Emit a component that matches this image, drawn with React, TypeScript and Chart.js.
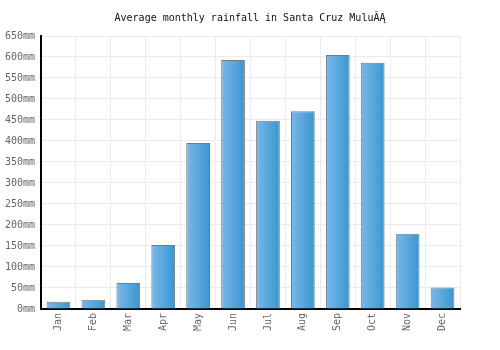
import React, { useEffect, useRef } from "react";
import { Chart, registerables } from "chart.js";

Chart.register(...registerables);

const months = ["Jan", "Feb", "Mar", "Apr", "May", "Jun", "Jul", "Aug", "Sep", "Oct", "Nov", "Dec"];
const rainfall = [17, 22, 62, 152, 395, 593, 448, 471, 605, 586, 179, 51];
const titleText = "Average monthly rainfall in Santa Cruz MuluĂĄ";
const unit = "mm";
const BAR_PCT = 0.68;
const FONT = "'DejaVu Sans Mono', monospace";

const titlePlugin = {
  id: "centerTitle",
  afterDraw(chart: any) {
    const ctx = chart.ctx;
    ctx.save();
    ctx.font = "10px " + FONT;
    ctx.fillStyle = "#111";
    ctx.textAlign = "center";
    ctx.textBaseline = "middle";
    ctx.fillText(titleText, chart.width / 2, 18);
    ctx.restore();
  },
};

export default function App() {
  const ref = useRef<HTMLCanvasElement | null>(null);
  useEffect(() => {
    if (!ref.current) return;
    const chart = new Chart(ref.current, {
      type: "bar",
      data: {
        labels: months,
        datasets: [
          {
            data: rainfall,
            borderColor: "#7a7a7a",
            borderWidth: 1,
            barPercentage: BAR_PCT,
            categoryPercentage: 1,
            backgroundColor: (c: any) => {
              const ch = c.chart;
              const xs = ch.scales?.x;
              if (!xs || c.dataIndex === undefined) return "#5aa8de";
              const cx = xs.getPixelForValue(c.dataIndex);
              const w = (xs.width / months.length) * BAR_PCT;
              if (!isFinite(cx) || !isFinite(w)) return "#5aa8de";
              const g = ch.ctx.createLinearGradient(cx - w / 2, 0, cx + w / 2, 0);
              g.addColorStop(0, "#7ab8ea");
              g.addColorStop(1, "#3996cf");
              return g;
            },
          },
        ],
      },
      plugins: [titlePlugin],
      options: {
        animation: false,
        responsive: false,
        maintainAspectRatio: false,
        layout: { padding: { left: 4, right: 40, top: 36, bottom: 15 } },
        plugins: {
          legend: { display: false },
          tooltip: { enabled: false },
          title: { display: false },
        },
        scales: {
          x: {
            grid: { color: "#ebebeb", offset: true, drawTicks: false },
            border: { color: "#000", width: 2 },
            ticks: {
              color: "#666",
              font: { family: FONT, size: 10 },
              maxRotation: 90,
              minRotation: 90,
              padding: 4,
            },
          },
          y: {
            min: 0,
            max: 650,
            grid: { color: "#ebebeb", drawTicks: false },
            border: { color: "#000", width: 2 },
            afterFit: (s: any) => {
              s.width = 37;
            },
            ticks: {
              stepSize: 50,
              color: "#666",
              font: { family: FONT, size: 10 },
              padding: 6,
              callback: (v: any) => v + unit,
            },
          },
        },
      },
    });
    return () => chart.destroy();
  }, []);
  return (
    <div style={{ position: "fixed", left: 0, top: 0, width: 500, height: 350, background: "#fff" }}>
      <canvas ref={ref} width={500} height={350} />
    </div>
  );
}
